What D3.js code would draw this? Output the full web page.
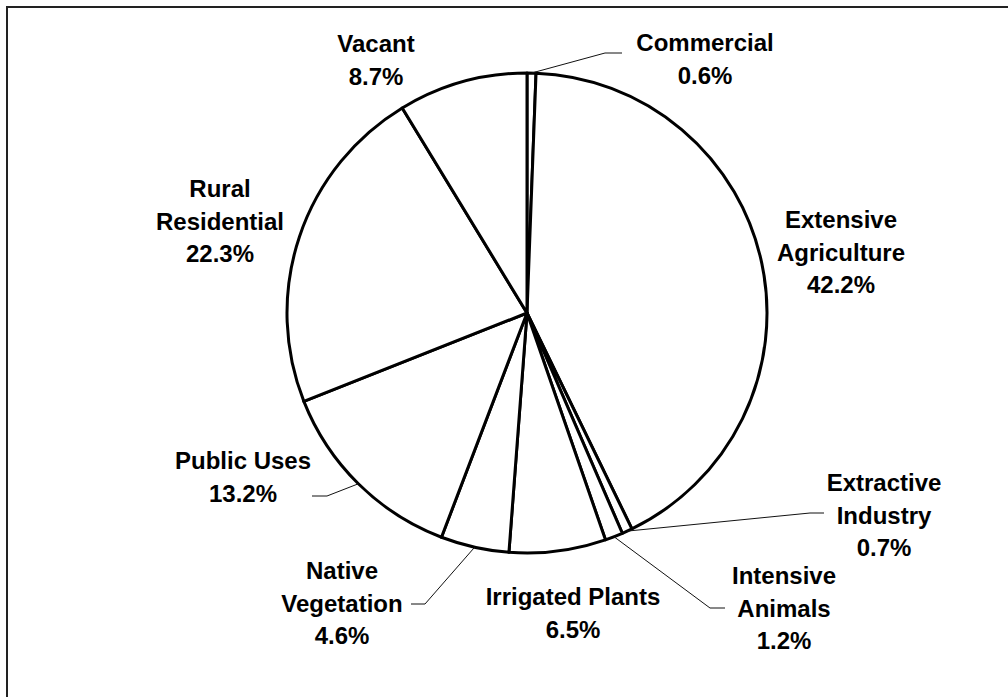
<!DOCTYPE html>
<html>
<head>
<meta charset="utf-8">
<script src="https://cdn.jsdelivr.net/npm/d3@7"></script>
<style>
  html, body { margin: 0; padding: 0; background: #fff; }
  svg { display: block; }
  .lbl { font-family: "Liberation Sans", Arial, sans-serif; font-weight: bold; font-size: 24px; fill: #000; }
</style>
</head>
<body>
<svg id="chart" width="1008" height="697"></svg>
<script>
// land use categories, clockwise from 12 o'clock
var categories = ["Commercial", "Extensive Agriculture", "Extractive Industry", "Intensive Animals",
  "Irrigated Plants", "Native Vegetation", "Public Uses", "Rural Residential", "Vacant"];
var shares = [0.6, 42.2, 0.7, 1.2, 6.5, 4.6, 13.2, 22.3, 8.7];
// how each name is broken over lines
var labelLines = [["Commercial"], ["Extensive", "Agriculture"], ["Extractive", "Industry"], ["Intensive", "Animals"],
  ["Irrigated Plants"], ["Native", "Vegetation"], ["Public Uses"], ["Rural", "Residential"], ["Vacant"]];

// label placement (text centre x, first line baseline) + leader elbow/end, by hand
var layout = {
  "Commercial":            {x: 705, y: 51,  leader: [[605, 53], [622, 53]]},
  "Extensive Agriculture": {x: 841, y: 228},
  "Extractive Industry":   {x: 884, y: 491, leader: [[810, 513], [824, 513]]},
  "Intensive Animals":     {x: 784, y: 584, leader: [[710, 608], [725, 608]]},
  "Irrigated Plants":      {x: 573, y: 605},
  "Native Vegetation":     {x: 342, y: 579, leader: [[425, 604], [411, 604]]},
  "Public Uses":           {x: 243, y: 469, leader: [[327, 496], [312, 496]]},
  "Rural Residential":     {x: 220, y: 197},
  "Vacant":                {x: 376, y: 52}
};

var svg = d3.select("#chart");
var cx = 527, cy = 313, r = 240, lineH = 32.5;

// outer frame (runs off right and bottom edge like the original)
svg.append("rect")
  .attr("x", 7).attr("y", 7).attr("width", 1020).attr("height", 710)
  .attr("fill", "none").attr("stroke", "#222").attr("stroke-width", 2);

var data = categories.map(function(c, i) { return {name: c, value: shares[i], lines: labelLines[i]}; });

var pie = d3.pie().sort(null).value(function(d) { return d.value; });
var arc = d3.arc().innerRadius(0).outerRadius(r);
var arcs = pie(data);

var g = svg.append("g").attr("transform", "translate(" + cx + "," + cy + ")");

g.selectAll("path.slice")
  .data(arcs)
  .enter().append("path")
  .attr("class", "slice")
  .attr("d", arc)
  .attr("fill", "#fff")
  .attr("stroke", "#000")
  .attr("stroke-width", 3)
  .attr("stroke-linejoin", "round");

// leader lines from the arc midpoint
arcs.forEach(function(a) {
  var L = layout[a.data.name];
  if (!L.leader) return;
  var mid = (a.startAngle + a.endAngle) / 2;
  var p0 = [cx + r * Math.sin(mid), cy - r * Math.cos(mid)];
  var pts = [p0].concat(L.leader);
  svg.append("path")
    .attr("d", d3.line()(pts))
    .attr("fill", "none")
    .attr("stroke", "#111")
    .attr("stroke-width", 1);
});

// labels
arcs.forEach(function(a) {
  var L = layout[a.data.name];
  var lines = a.data.lines.concat([d3.format(".1f")(a.data.value) + "%"]);
  var t = svg.append("text")
    .attr("class", "lbl")
    .attr("text-anchor", "middle")
    .attr("x", L.x).attr("y", L.y);
  lines.forEach(function(s, i) {
    t.append("tspan").attr("x", L.x).attr("dy", i === 0 ? 0 : lineH).text(s);
  });
});
</script>
</body>
</html>
